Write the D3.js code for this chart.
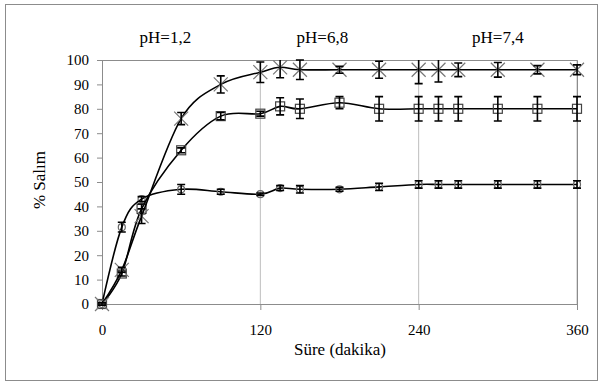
<!DOCTYPE html>
<html>
<head>
<meta charset="utf-8">
<script src="https://cdn.jsdelivr.net/npm/d3@7"></script>
<style>
  body { margin: 0; background: #fff; }
  svg text { font-family: "Liberation Serif", "Times New Roman", Times, serif; }
</style>
</head>
<body>
<div id="chart"></div>
<script>
const times = [0, 15, 30, 60, 90, 120, 135, 150, 180, 210, 240, 255, 270, 300, 330, 360];

const serA = [0, 31.5, 43, 47, 46, 45, 47.5, 47, 47, 48, 49, 49, 49, 49, 49, 49];
const errA = [0.5, 2, 1, 2, 1, 0.5, 1, 1.5, 0.8, 1.5, 1.5, 1.5, 1.5, 1.5, 1.5, 1.5];

const serB = [0, 12.5, 39, 63, 77, 78, 81, 80, 82.5, 80, 80, 80, 80, 80, 80, 80];
const errB = [0.5, 1, 2, 1, 1.5, 1, 3.5, 4, 2.5, 5, 5, 5, 5, 5, 5, 5];

const serC = [0, 14, 36, 76, 90, 95, 97, 96, 96, 96, 96, 96, 96, 96, 96, 96];
const errC = [0.5, 1, 3, 2.5, 3.5, 4.2, 4.3, 4, 1.4, 3.5, 5.7, 5, 2.8, 3, 1.7, 2];

const xTicks = [0, 120, 240, 360];
const yTicks = d3.range(0, 101, 10);
const phLabels = [
  { text: "pH=1,2", at: 48 },
  { text: "pH=6,8", at: 167 },
  { text: "pH=7,4", at: 300 }
];

const width = 604;
const height = 383;
const mLeft = 102, mRight = 577, mTop = 60, mBottom = 304;

const svg = d3.select('#chart').append('svg')
  .attr('width', width)
  .attr('height', height);

// outer frame
svg.append('rect')
  .attr('x', 5.5).attr('y', 4.5)
  .attr('width', 592).attr('height', 376)
  .attr('fill', 'none').attr('stroke', '#8c8c8c');

const x = d3.scaleLinear().domain([0, 360]).range([mLeft, mRight]);
const y = d3.scaleLinear().domain([0, 100]).range([mBottom, mTop]);

// gridlines
svg.append('g').selectAll('line')
  .data(xTicks.slice(1))
  .enter().append('line')
  .attr('x1', d => x(d)).attr('x2', d => x(d))
  .attr('y1', mTop).attr('y2', mBottom)
  .attr('stroke', '#bdbdbd');

// plot border top/right
svg.append('path')
  .attr('d', `M${mLeft},${mTop + 0.5}H${mRight + 0.5}V${mBottom}`)
  .attr('fill', 'none').attr('stroke', '#8c8c8c');

const xAxis = d3.axisBottom(x).tickValues(xTicks).tickSize(6).tickPadding(14);
const gx = svg.append('g')
  .attr('transform', `translate(0, ${mBottom})`)
  .call(xAxis)
  .attr('font-size', 15);
gx.selectAll('path, line').attr('stroke', '#8c8c8c');
gx.selectAll('text').attr('fill', '#000');
gx.select('.domain').attr('d', `M${mLeft},0.5H${mRight}`);

const yAxis = d3.axisLeft(y).tickValues(yTicks).tickSize(5).tickPadding(8);
const gy = svg.append('g')
  .attr('transform', `translate(${mLeft}, 0)`)
  .call(yAxis)
  .attr('font-size', 15);
gy.selectAll('path, line').attr('stroke', '#8c8c8c');
gy.selectAll('text').attr('fill', '#000');
gy.select('.domain').attr('d', `M0.5,${mTop}V${mBottom}`);

// titles
svg.append('text')
  .attr('x', 340).attr('y', 355)
  .attr('text-anchor', 'middle')
  .attr('font-size', 17)
  .text('Süre (dakika)');

svg.append('text')
  .attr('transform', `translate(45, 180) rotate(-90)`)
  .attr('text-anchor', 'middle')
  .attr('font-size', 17)
  .text('% Salım');

svg.append('g').selectAll('text')
  .data(phLabels)
  .enter().append('text')
  .attr('x', d => x(d.at))
  .attr('y', 43)
  .attr('text-anchor', 'middle')
  .attr('font-size', 17)
  .text(d => d.text);

const line = d3.line()
  .x(d => x(d.t))
  .y(d => y(d.v))
  .curve(d3.curveCardinal.tension(0));

const series = [
  { name: 'A', vals: serA, errs: errA, marker: 'circle' },
  { name: 'B', vals: serB, errs: errB, marker: 'square' },
  { name: 'C', vals: serC, errs: errC, marker: 'x' }
];

series.forEach(s => {
  const pts = times.map((t, i) => ({ t, v: s.vals[i], e: s.errs[i] }));

  svg.append('path')
    .datum(pts)
    .attr('d', line)
    .attr('fill', 'none')
    .attr('stroke', '#000')
    .attr('stroke-width', 1.6);

  const g = svg.append('g').selectAll('g')
    .data(pts)
    .enter().append('g')
    .attr('transform', d => `translate(${x(d.t)}, ${y(d.v)})`);

  if (s.marker === 'circle') {
    g.append('circle').attr('r', 3.5)
      .attr('fill', 'none').attr('stroke', '#666').attr('stroke-width', 1.2);
  } else if (s.marker === 'square') {
    g.append('rect').attr('x', -4.5).attr('y', -4.5).attr('width', 9).attr('height', 9)
      .attr('fill', 'none').attr('stroke', '#444').attr('stroke-width', 1.2);
  } else {
    g.append('path').attr('d', 'M-7,-7L7,7M-7,7L7,-7')
      .attr('fill', 'none').attr('stroke', '#777').attr('stroke-width', 1.2);
  }

  // error bars, clipped at the top of the plot area (no cap when clipped)
  const eb = svg.append('g').selectAll('g')
    .data(pts)
    .enter().append('g')
    .attr('transform', d => `translate(${x(d.t)}, 0)`);
  eb.append('path')
    .attr('d', d => {
      const hi = d.v + d.e;
      const y1 = y(Math.min(100, hi)), y2 = y(d.v - d.e);
      const capTop = hi <= 100 ? `M-4,${y1}H4` : '';
      return `M0,${y1}V${y2}${capTop}M-4,${y2}H4`;
    })
    .attr('fill', 'none')
    .attr('stroke', '#000')
    .attr('stroke-width', 1.6);
});
</script>
</body>
</html>
